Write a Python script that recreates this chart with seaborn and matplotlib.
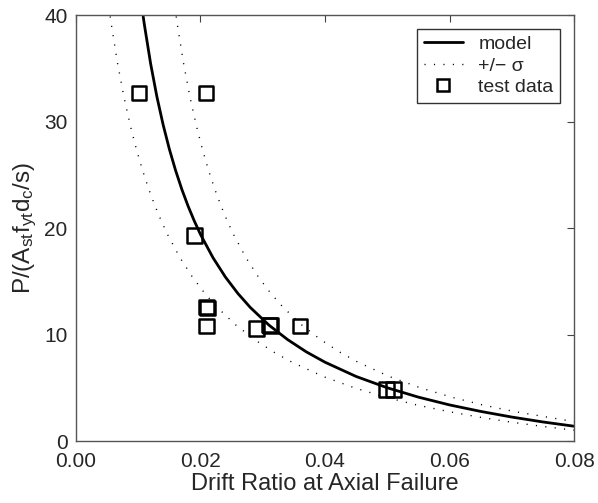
import matplotlib
matplotlib.use("Agg")
import matplotlib.pyplot as plt
from matplotlib.lines import Line2D
import seaborn as sns
import pandas as pd

# model curve (drift ratio, normalised axial load)
model_drift = [0.0108, 0.011, 0.012, 0.013, 0.014, 0.015, 0.016, 0.017, 0.018, 0.019,
               0.020, 0.022, 0.024, 0.026, 0.028, 0.031, 0.034, 0.037, 0.040, 0.045,
               0.050, 0.055, 0.060, 0.065, 0.070, 0.075, 0.080]
model_load = [39.87, 39.06, 35.42, 32.34, 29.71, 27.42, 25.42, 23.65, 22.08, 20.68,
              19.41, 17.23, 15.41, 13.87, 12.55, 10.89, 9.53, 8.38, 7.41, 6.07,
              5.01, 4.13, 3.40, 2.79, 2.26, 1.80, 1.40]

# +sigma curve
upper_drift = [0.0161, 0.0163, 0.0173, 0.0183, 0.0193, 0.0203, 0.0213, 0.0223, 0.0233, 0.0243,
               0.0253, 0.0273, 0.0293, 0.0313, 0.0333, 0.0363, 0.0393, 0.0423, 0.0453, 0.0503,
               0.0553, 0.0603, 0.0653, 0.0703, 0.0800]
upper_load = [39.87, 39.06, 35.42, 32.34, 29.71, 27.42, 25.42, 23.65, 22.08, 20.68,
              19.41, 17.23, 15.41, 13.87, 12.55, 10.89, 9.53, 8.38, 7.41, 6.07,
              5.01, 4.13, 3.40, 2.79, 1.83]

# -sigma curve
lower_drift = [0.0055, 0.0057, 0.0067, 0.0077, 0.0087, 0.0097, 0.0107, 0.0117, 0.0127, 0.0137,
               0.0147, 0.0167, 0.0187, 0.0207, 0.0227, 0.0257, 0.0287, 0.0317, 0.0347, 0.0397,
               0.0447, 0.0497, 0.0547, 0.0597, 0.0647, 0.0697, 0.0747, 0.0800]
lower_load = [39.87, 39.06, 35.42, 32.34, 29.71, 27.42, 25.42, 23.65, 22.08, 20.68,
              19.41, 17.23, 15.41, 13.87, 12.55, 10.89, 9.53, 8.38, 7.41, 6.07,
              5.01, 4.13, 3.40, 2.79, 2.26, 1.80, 1.40, 1.03]

# test data
test_drift = [0.0101, 0.0209, 0.0190, 0.0210, 0.0211, 0.0210, 0.0290, 0.0311, 0.0312, 0.0360, 0.0499, 0.0510]
test_load = [32.7, 32.7, 19.3, 12.6, 12.5, 10.8, 10.6, 10.9, 10.85, 10.8, 4.85, 4.85]

x_ticks = [0, 0.02, 0.04, 0.06, 0.08]
x_tick_labels = ["0.00", "0.02", "0.04", "0.06", "0.08"]
y_ticks = [0, 10, 20, 30, 40]

sns.set_style("white")
plt.rcParams['font.family'] = ['Liberation Sans', 'DejaVu Sans']
plt.rcParams['mathtext.default'] = 'regular'

fig = plt.figure(figsize=(5.98, 5.03), dpi=100)
ax = fig.add_axes([0.127, 0.123, 0.833, 0.847])

dots = (0, (0.8, 6))
sns.lineplot(x=model_drift, y=model_load, ax=ax, color='black', lw=2, sort=False)
sns.lineplot(x=upper_drift, y=upper_load, ax=ax, color='black', lw=1.0, linestyle=dots, sort=False)
sns.lineplot(x=lower_drift, y=lower_load, ax=ax, color='black', lw=1.0, linestyle=dots, sort=False)

df = pd.DataFrame({"drift": test_drift, "load": test_load})
sns.scatterplot(data=df, x="drift", y="load", ax=ax, marker='s', s=110,
                facecolor='none', edgecolor='black', linewidth=1.8, zorder=3)

ax.set_xlim(0, 0.08)
ax.set_ylim(0, 40)
ax.set_xticks(x_ticks)
ax.set_xticklabels(x_tick_labels)
ax.set_yticks(y_ticks)
ax.tick_params(direction='in', length=5, width=0.8, color='#444444',
               top=True, right=True, labelsize=15, pad=6)
ax.tick_params(axis='x', pad=8)
for sp in ax.spines.values():
    sp.set_color('#555555')
    sp.set_linewidth(1.0)

ax.set_xlabel("Drift Ratio at Axial Failure", fontsize=17, labelpad=1)
ax.set_ylabel(r"P/(A$_{st}$f$_{yt}$d$_c$/s)", fontsize=17.5, labelpad=4)

handles = [
    Line2D([], [], color='black', lw=2),
    Line2D([], [], color='black', lw=1.0, linestyle=dots),
    Line2D([], [], color='black', lw=0, marker='s', markersize=9,
           markerfacecolor='none', markeredgewidth=1.8),
]
leg = ax.legend(handles, ["model", "+/\u2212 \u03c3", "test data"], loc='upper right',
                fontsize=14, frameon=True, fancybox=False, edgecolor='black',
                borderaxespad=0.7, handlelength=2.0, handletextpad=0.8,
                labelspacing=0.2, borderpad=0.35)
leg.get_frame().set_linewidth(1.0)

fig.savefig("out.png", dpi=100)
